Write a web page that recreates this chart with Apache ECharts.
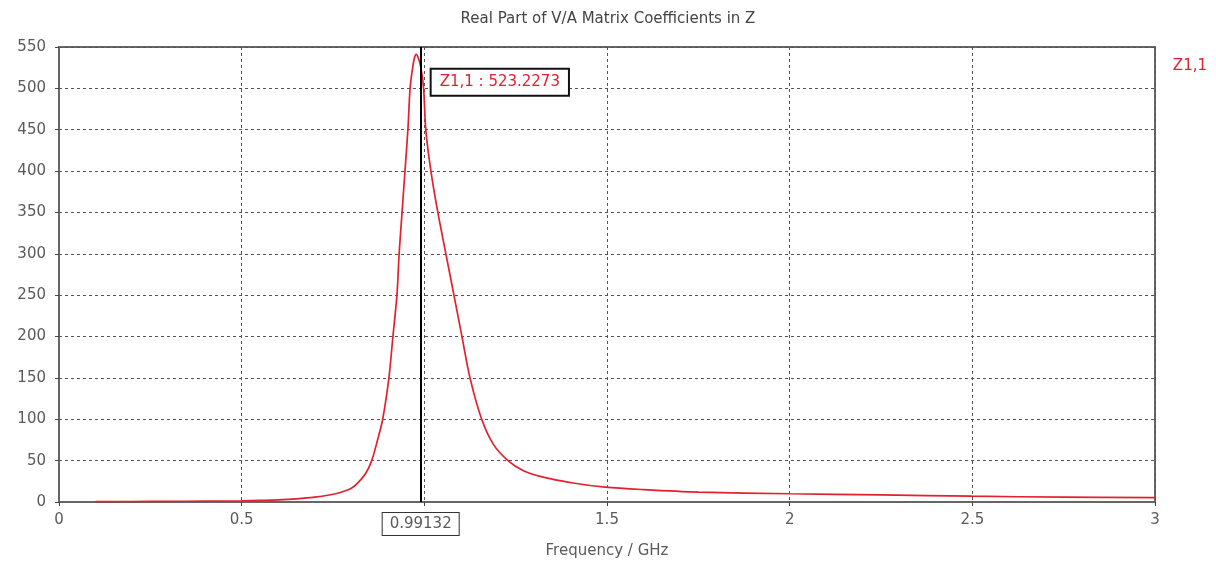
<!DOCTYPE html>
<html>
<head>
<meta charset="utf-8">
<script src="https://cdn.jsdelivr.net/npm/echarts@6/dist/echarts.min.js"></script>
<style>
html,body{margin:0;padding:0;background:#fff;}
#chart{width:1216px;height:564px;}
</style>
</head>
<body>
<div id="chart"></div>
<script>
const titleText = 'Real Part of V/A Matrix Coefficients in Z';
const seriesName = 'Z1,1';
const freqGHz = [0.10, 0.20, 0.30, 0.40, 0.50, 0.55, 0.60, 0.65, 0.70, 0.74, 0.77, 0.80, 0.82, 0.84, 0.856, 0.872, 0.886, 0.903, 0.914, 0.925, 0.931, 0.939, 0.947, 0.955, 0.961, 0.968, 0.973, 0.978, 0.984, 0.99132, 0.998, 1.004, 1.018, 1.037, 1.059, 1.081, 1.103, 1.125, 1.157, 1.19, 1.229, 1.27, 1.317, 1.407, 1.495, 1.6, 1.75, 2.0, 2.25, 2.5, 2.75, 3.0];
const realZ = [0.5, 0.6, 0.8, 1.0, 1.5, 2.0, 2.6, 3.8, 5.8, 8.5, 11.5, 16.5, 24, 35, 50, 75, 100, 150, 200, 250, 300, 350, 400, 450, 500, 525, 537, 541, 536, 523.2273, 500, 450, 400, 350, 300, 250, 200, 150, 100, 69, 50, 38, 31, 23, 18, 15, 12, 10, 8.5, 7, 5.8, 5.2];
const xTicks = {min: 0, max: 3, interval: 0.5};
const yTicks = {min: 0, max: 550, interval: 50};
const markerFreq = 0.99132;
const markerValue = 523.2273;

const red = '#e3202e';
const font = 'DejaVu Sans';
const textGray = '#5a5a5a';
const data = freqGHz.map((f, i) => [f, realZ[i]]);

const chart = echarts.init(document.getElementById('chart'), null, {renderer: 'canvas'});
chart.setOption({
  animation: false,
  backgroundColor: '#fff',
  title: {
    text: titleText, left: 'center', top: 7,
    textStyle: {fontFamily: font, fontSize: 15, fontWeight: 'normal', color: '#444'}
  },
  legend: {
    data: [seriesName], right: 4, top: 54, icon: 'rect', itemWidth: 0, itemHeight: 0, itemGap: 0,
    textStyle: {fontFamily: font, fontSize: 15, color: red}
  },
  grid: {left: 59, right: 61, top: 47, bottom: 62, show: true, borderColor: '#666', borderWidth: 2, backgroundColor: 'transparent'},
  xAxis: {
    type: 'value', min: xTicks.min, max: xTicks.max, interval: xTicks.interval,
    name: 'Frequency / GHz', nameLocation: 'middle', nameGap: 42,
    nameTextStyle: {fontFamily: font, fontSize: 15, color: textGray},
    axisLine: {show: true, lineStyle: {color: '#666', width: 2}},
    axisTick: {show: true, length: 4, lineStyle: {color: '#444'}},
    axisLabel: {fontFamily: font, fontSize: 15, color: textGray, margin: 11},
    splitLine: {show: true, lineStyle: {color: '#555', type: [3, 3], width: 1}}
  },
  yAxis: {
    type: 'value', min: yTicks.min, max: yTicks.max, interval: yTicks.interval,
    axisLine: {show: true, lineStyle: {color: '#666', width: 2}},
    axisTick: {show: true, length: 4, lineStyle: {color: '#444'}},
    axisLabel: {fontFamily: font, fontSize: 15, color: textGray, margin: 13},
    splitLine: {show: true, lineStyle: {color: '#555', type: [3, 3], width: 1}}
  },
  series: [{
    name: seriesName, type: 'line', data: data, showSymbol: false, symbol: 'none',
    smooth: 0.3,
    lineStyle: {color: red, width: 1.7}, itemStyle: {color: red},
    markLine: {
      silent: true, symbol: ['none', 'none'], animation: false,
      lineStyle: {color: '#000', width: 2, type: 'solid'},
      label: {
        show: true, position: 'start', distance: 11, formatter: String(markerFreq),
        fontFamily: font, fontSize: 15, color: textGray, backgroundColor: '#fff',
        borderColor: '#333', borderWidth: 1, padding: [4, 7, 3, 7]
      },
      data: [{xAxis: markerFreq}]
    },
    markPoint: {
      silent: true, animation: false, symbol: 'circle', symbolSize: 1,
      itemStyle: {color: 'rgba(0,0,0,0)'},
      label: {
        show: true, position: [11, 1], formatter: seriesName + ' : ' + markerValue,
        fontFamily: font, fontSize: 15, color: red, backgroundColor: '#fff',
        borderColor: '#111', borderWidth: 2, padding: [5, 8, 5, 8]
      },
      data: [{coord: [markerFreq, markerValue]}]
    }
  }]
});
</script>
</body>
</html>
